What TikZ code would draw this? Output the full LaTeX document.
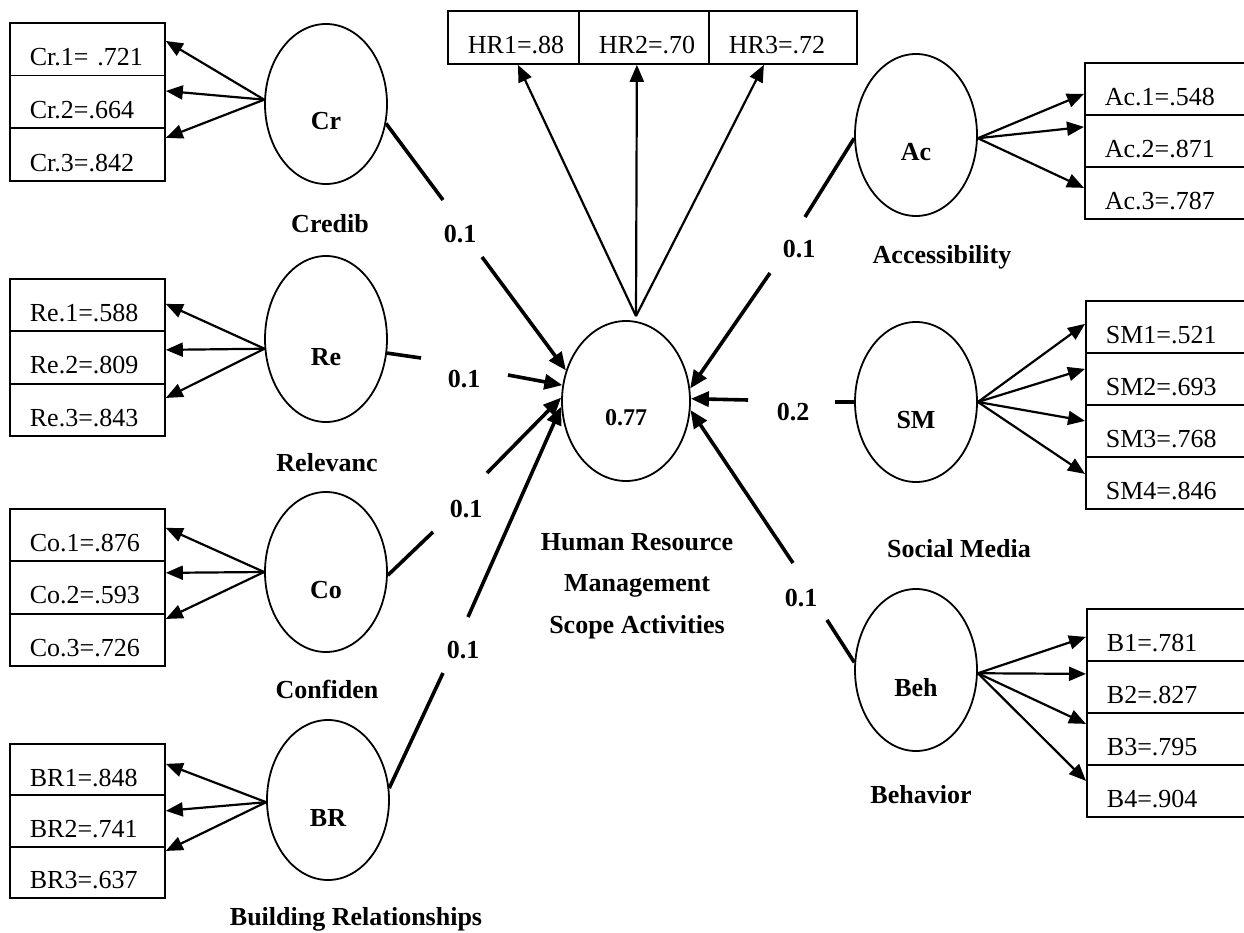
\documentclass[tikz,border=0pt]{standalone}
\usepackage{fontspec}
\setmainfont{Liberation Serif}
\usetikzlibrary{arrows.meta,shapes.geometric,calc}
\begin{document}
\begin{tikzpicture}[x=1pt,y=-1pt,
  ind/.style={draw, line width=1.8pt, rectangle, anchor=north west, inner xsep=0pt, inner ysep=0pt,
    text width=#1, align=left, text height=33pt, text depth=0pt,
    font=\fontsize{26}{30}\selectfont, execute at begin node={\noindent\hspace*{20pt}}},
  lat/.style={draw, line width=1.8pt, ellipse, minimum width=122pt, minimum height=160pt, inner sep=0pt,
    text height=52pt, text depth=0pt, font=\fontsize{26}{30}\selectfont\bfseries},
  lbl/.style={font=\fontsize{26}{30}\selectfont\bfseries, inner sep=0pt, anchor=base},
  load/.style={line width=2.2pt, -{Triangle[length=17pt,width=14pt]}},
  pth/.style={line width=3.6pt},
  ptha/.style={line width=3.6pt, -{Triangle[length=18pt,width=15pt]}}
]
\useasboundingbox (0,0) rectangle (1244,933);
\clip (0,0) rectangle (1244,933);

% ---------- indicator boxes ----------
\node[ind=155pt, minimum height=52.7pt] (cr1) at (9,22) {Cr.1= .721};
\node[ind=155pt, minimum height=52.7pt] (cr2) at (9,74.7) {Cr.2=.664};
\node[ind=155pt, minimum height=52.7pt] (cr3) at (9,127.3) {Cr.3=.842};

\node[ind=155pt, minimum height=52.3pt] (re1) at (9,278) {Re.1=.588};
\node[ind=155pt, minimum height=52.3pt] (re2) at (9,330.3) {Re.2=.809};
\node[ind=155pt, minimum height=52.3pt] (re3) at (9,382.7) {Re.3=.843};

\node[ind=155pt, minimum height=52.3pt] (co1) at (9,508) {Co.1=.876};
\node[ind=155pt, minimum height=52.3pt] (co2) at (9,560.3) {Co.2=.593};
\node[ind=155pt, minimum height=52.3pt] (co3) at (9,612.7) {Co.3=.726};

\node[ind=155pt, minimum height=51.3pt] (br1) at (9,743) {BR1=.848};
\node[ind=155pt, minimum height=51.3pt] (br2) at (9,794.3) {BR2=.741};
\node[ind=155pt, minimum height=51.3pt] (br3) at (9,845.7) {BR3=.637};

\node[ind=131pt, minimum height=53pt] (hr1) at (447,10) {HR1=.88};
\node[ind=130pt, minimum height=53pt] (hr2) at (578,10) {HR2=.70};
\node[ind=148pt, minimum height=53pt] (hr3) at (708,10) {HR3=.72};

\node[ind=220pt, minimum height=52pt] (ac1) at (1084,62) {Ac.1=.548};
\node[ind=220pt, minimum height=52pt] (ac2) at (1084,114) {Ac.2=.871};
\node[ind=220pt, minimum height=52pt] (ac3) at (1084,166) {Ac.3=.787};

\node[ind=220pt, minimum height=52pt] (sm1) at (1085,300) {SM1=.521};
\node[ind=220pt, minimum height=52pt] (sm2) at (1085,352) {SM2=.693};
\node[ind=220pt, minimum height=52pt] (sm3) at (1085,404) {SM3=.768};
\node[ind=220pt, minimum height=52pt] (sm4) at (1085,456) {SM4=.846};

\node[ind=220pt, minimum height=52pt] (b1) at (1086,608) {B1=.781};
\node[ind=220pt, minimum height=52pt] (b2) at (1086,660) {B2=.827};
\node[ind=220pt, minimum height=52pt] (b3) at (1086,712) {B3=.795};
\node[ind=220pt, minimum height=52pt] (b4) at (1086,764) {B4=.904};

% ---------- latent variables ----------
\node[lat] (cr) at (326,104) {Cr};
\node[lat, minimum height=166pt] (re) at (326,339) {Re};
\node[lat] (co) at (326,572) {Co};
\node[lat] (br) at (328,800) {BR};
\node[lat, minimum height=162pt] (ac) at (916,135) {Ac};
\node[lat] (sm) at (916,402) {SM};
\node[lat, minimum height=162pt] (beh) at (916,670) {Beh};
\node[lat, minimum width=128pt, font=\fontsize{24}{28}\selectfont\bfseries, text height=48pt] (hrm) at (626,401) {0.77};

% ---------- latent names ----------
\node[lbl] (ncr) at (330,233) {Credib};
\node[lbl] (nre) at (327,471) {Relevanc};
\node[lbl] (nco) at (327,698) {Confiden};
\node[lbl] (nbr) at (356,925) {Building Relationships};
\node[lbl] (nac) at (942,264) {Accessibility};
\node[lbl] (nsm) at (959,557) {Social Media};
\node[lbl] (nbeh) at (921,803) {Behavior};
\node[lbl, align=center, font=\fontsize{26}{41.5}\selectfont\bfseries] (nhrm) at (637,633)
  {Human Resource\\Management\\Scope Activities};

% ---------- loadings ----------
\draw[load] (cr.176) -- ($(cr1.east)+(0,-8.3)$);
\draw[load] (cr.176) -- ($(cr2.east)+(0,-11)$);
\draw[load] (cr.176) -- ($(cr3.east)+(0,-16.7)$);

\draw[load] (re.189) -- ($(re1.east)+(0,-1.2)$);
\draw[load] (re.189) -- ($(re2.east)+(0,-7.5)$);
\draw[load] (re.189) -- ($(re3.east)+(0,-11.8)$);

\draw[load] (co.180) -- ($(co1.east)+(0,-7.2)$);
\draw[load] (co.180) -- ($(co2.east)+(0,-14.5)$);
\draw[load] (co.180) -- ($(co3.east)+(0,-20.8)$);

\draw[load] (br.182) -- ($(br1.east)+(0,-5.7)$);
\draw[load] (br.182) -- ($(br2.east)+(0,-10)$);
\draw[load] (br.182) -- ($(br3.east)+(0,-21.3)$);

\draw[load] (ac.357) -- ($(ac1.west)+(0,5)$);
\draw[load] (ac.357) -- ($(ac2.west)+(0,-14)$);
\draw[load] (ac.357) -- ($(ac3.west)+(0,-5)$);

\draw[load] (sm.0) -- ($(sm1.west)+(0,-3)$);
\draw[load] (sm.0) -- ($(sm2.west)+(0,-10)$);
\draw[load] (sm.0) -- ($(sm3.west)+(0,-10)$);
\draw[load] (sm.0) -- ($(sm4.west)+(0,-9)$);

\draw[load] (beh.357) -- ($(b1.west)+(0,2)$);
\draw[load] (beh.357) -- ($(b2.west)+(0,-13)$);
\draw[load] (beh.357) -- ($(b3.west)+(0,-15)$);
\draw[load] (beh.357) -- ($(b4.west)+(0,-10)$);

\coordinate (hro) at ($(hrm.north)+(10,-4)$);
\draw[load] (hro) -- ($(hr1.south)+(4.5,0)$);
\draw[load] (hro) -- ($(hr2.south)+(-7,0)$);
\draw[load] (hro) -- ($(hr3.south)+(-19,0)$);

% ---------- structural paths ----------
\coordinate (crg1) at (443,200);  \coordinate (crg2) at (482,257);
\coordinate (reg1) at (421,358);  \coordinate (reg2) at (508,375);
\coordinate (cog1) at (433,532);  \coordinate (cog2) at (487,473);
\coordinate (brg1) at (443,673);  \coordinate (brg2) at (468,617);
\coordinate (acg1) at (805,217);  \coordinate (acg2) at (770,273);
\coordinate (smg1) at (835,402);  \coordinate (smg2) at (748,400);
\coordinate (behg1) at (827,620); \coordinate (behg2) at (793,563);

\draw[pth] (cr.342) -- (crg1);   \draw[ptha] (crg2) -- (hrm.153.4);
\draw[pth] (re.347) -- (reg1);   \draw[ptha] (reg2) -- (hrm.166.4);
\draw[pth] (co.357) -- (cog1);   \draw[ptha] (cog2) -- (hrm.177);
\draw[pth] (br.11) -- (brg1);    \draw[ptha] (brg2) -- (hrm.185.6);
\draw[pth] (ac.183) -- (acg1);   \draw[ptha] (acg2) -- (hrm.11.8);
\draw[pth] (sm.180) -- (smg1);   \draw[ptha] (smg2) -- (hrm.2.6);
\draw[pth] (beh.173) -- (behg1); \draw[ptha] (behg2) -- (hrm.352);

% ---------- path coefficients ----------
\node[lbl] (pcr) at (460,243) {0.1};
\node[lbl] (pre) at (464,387) {0.1};
\node[lbl] (pco) at (466,517) {0.1};
\node[lbl] (pbr) at (463,658) {0.1};
\node[lbl] (pac) at (799,258) {0.1};
\node[lbl] (psm) at (793,420) {0.2};
\node[lbl] (pbeh) at (801,606) {0.1};
\end{tikzpicture}
\end{document}
